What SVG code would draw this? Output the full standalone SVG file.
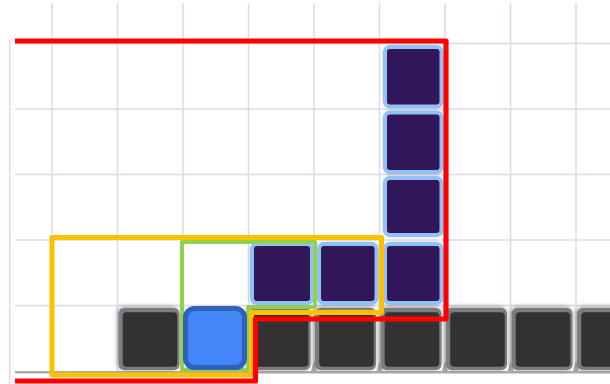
<svg xmlns="http://www.w3.org/2000/svg" width="610" height="384" viewBox="0 0 610 384">
  <defs>
    <filter id="sh" x="-20%" y="-20%" width="140%" height="140%">
      <feDropShadow dx="-1" dy="-1" stdDeviation="2.5" flood-color="#000" flood-opacity="0.35"/>
    </filter>
    <filter id="sh2" x="-20%" y="-20%" width="140%" height="140%">
      <feDropShadow dx="0" dy="0" stdDeviation="1.5" flood-color="#000" flood-opacity="0.2"/>
    </filter>
  </defs>
  <style>
    .grid line { stroke: #dcdaea; stroke-width: 1.5; }
    .gout { fill: #7c7c7c; }
    .gin { fill: #333333; }
    .pur { fill: #31145a; stroke: #90c2f6; stroke-width: 4; }
    .blue { fill: #4287f5; stroke: #2f62b8; stroke-width: 5; }
    .tri { fill: #a8a8a8; }
    .outl { fill: none; stroke-linejoin: round; }
  </style>
  <rect width="610" height="384" fill="#ffffff"/>
  <g class="grid">
    <line x1="52" y1="3" x2="52" y2="371"/>
    <line x1="117.5" y1="3" x2="117.5" y2="371"/>
    <line x1="183" y1="3" x2="183" y2="371"/>
    <line x1="248.5" y1="3" x2="248.5" y2="371"/>
    <line x1="314" y1="3" x2="314" y2="371"/>
    <line x1="379.5" y1="3" x2="379.5" y2="371"/>
    <line x1="445" y1="3" x2="445" y2="371"/>
    <line x1="510.5" y1="3" x2="510.5" y2="371"/>
    <line x1="576" y1="3" x2="576" y2="371"/>
    <line x1="15" y1="43.5" x2="610" y2="43.5"/>
    <line x1="15" y1="109" x2="610" y2="109"/>
    <line x1="15" y1="174.5" x2="610" y2="174.5"/>
    <line x1="15" y1="240" x2="610" y2="240"/>
    <line x1="15" y1="305.5" x2="610" y2="305.5"/>
  </g>
  <line x1="9.8" y1="40" x2="9.8" y2="384" stroke="#ffc4cc" stroke-width="1.2"/>
  <line x1="15" y1="372.2" x2="610" y2="372.2" stroke="#aaaaaa" stroke-width="2.6"/>
  <g id="floor-triangles">
    <polygon class="tri" points="245.5,371 248.5,361 251.5,371"/>
    <polygon class="tri" points="311,371 314,361 317,371"/>
    <polygon class="tri" points="376.5,371 379.5,361 382.5,371"/>
    <polygon class="tri" points="442,371 445,361 448,371"/>
    <polygon class="tri" points="507.5,371 510.5,361 513.5,371"/>
    <polygon class="tri" points="573,371 576,361 579,371"/>
  </g>
  <g id="ground-1" filter="url(#sh)"><rect class="gout" x="118.5" y="307.7" width="61" height="62.5" rx="6"/><rect class="gin" x="122.7" y="312.3" width="54.6" height="54.4" rx="4"/></g>
  <g id="ground-3" filter="url(#sh)"><rect class="gout" x="249.5" y="307.7" width="61" height="62.5" rx="6"/><rect class="gin" x="253.7" y="312.3" width="54.6" height="54.4" rx="4"/></g>
  <g id="ground-4" filter="url(#sh)"><rect class="gout" x="315" y="307.7" width="61" height="62.5" rx="6"/><rect class="gin" x="319.2" y="312.3" width="54.6" height="54.4" rx="4"/></g>
  <g id="ground-5" filter="url(#sh)"><rect class="gout" x="380.5" y="307.7" width="61" height="62.5" rx="6"/><rect class="gin" x="384.7" y="312.3" width="54.6" height="54.4" rx="4"/></g>
  <g id="ground-6" filter="url(#sh)"><rect class="gout" x="446" y="307.7" width="61" height="62.5" rx="6"/><rect class="gin" x="450.2" y="312.3" width="54.6" height="54.4" rx="4"/></g>
  <g id="ground-7" filter="url(#sh)"><rect class="gout" x="511.5" y="307.7" width="61" height="62.5" rx="6"/><rect class="gin" x="515.7" y="312.3" width="54.6" height="54.4" rx="4"/></g>
  <g id="ground-8" filter="url(#sh)"><rect class="gout" x="577" y="307.7" width="61" height="62.5" rx="6"/><rect class="gin" x="581.2" y="312.3" width="54.6" height="54.4" rx="4"/></g>
  <g id="purple-col-1" filter="url(#sh2)"><rect class="pur" x="385" y="47" width="56.5" height="59.5" rx="5"/></g>
  <g id="purple-col-2" filter="url(#sh2)"><rect class="pur" x="385" y="112.5" width="56.5" height="59.5" rx="5"/></g>
  <g id="purple-col-3" filter="url(#sh2)"><rect class="pur" x="385" y="178" width="56.5" height="57" rx="5"/></g>
  <g id="purple-col-4" filter="url(#sh2)"><rect class="pur" x="385" y="244" width="56.5" height="59" rx="5"/></g>
  <g id="purple-row-1" filter="url(#sh2)"><rect class="pur" x="252" y="244" width="60" height="59" rx="5"/></g>
  <g id="purple-row-2" filter="url(#sh2)"><rect class="pur" x="319" y="244" width="57.5" height="59" rx="5"/></g>
  <g id="outlines">
    <path class="outl" d="M182,242 H315 V307 H248 V369.5 H182 Z" stroke="#92d050" stroke-width="4.2"/>
    <g id="player"><rect class="blue" x="185.5" y="308.5" width="59" height="59" rx="9"/></g>
    <path class="outl" d="M52,237.5 H381.5 V312.5 H251.5 V375 H52 Z" stroke="#ffc000" stroke-width="5"/>
    <path class="outl" d="M15,41 H446 V319 H255.5 V381 H15" stroke="#ff0000" stroke-width="5.2"/>
  </g>
</svg>
